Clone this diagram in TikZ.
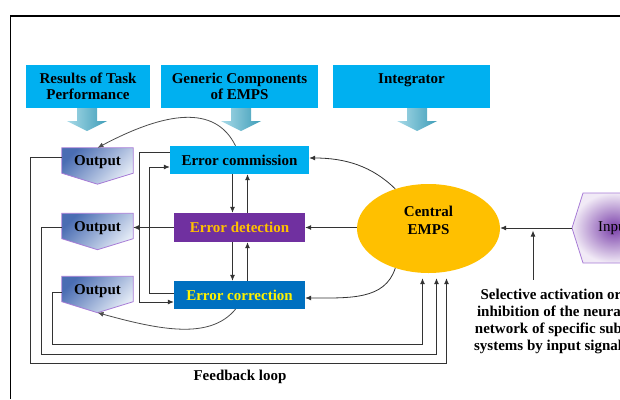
\documentclass[tikz,border=0pt]{standalone}
\usepackage{fontspec}
\setmainfont{Liberation Serif}
\usetikzlibrary{positioning,shapes.geometric,arrows.meta,backgrounds}

\definecolor{boxcyan}{HTML}{00B0F0}
\definecolor{detpurple}{HTML}{7030A0}
\definecolor{corblue}{HTML}{0070C0}
\definecolor{empsgold}{HTML}{FFC000}
\definecolor{outdark}{HTML}{4A6DB3}
\definecolor{outlight}{HTML}{E4EBF6}
\definecolor{outline}{HTML}{A77BD6}
\definecolor{arrowdark}{HTML}{3E9DB8}
\definecolor{arrowlight}{HTML}{A8DAE8}
\definecolor{hexdark}{HTML}{7A40AA}
\definecolor{hexlight}{HTML}{F1EAF6}

\begin{document}
\begin{tikzpicture}[x=1pt, y=-1pt,
		font=\fontsize{15}{16}\selectfont\bfseries,
		>={Latex[length=6pt,width=5pt]},
		line/.style={draw=black!80, line width=0.8pt},
		topbox/.style={rectangle, fill=boxcyan, minimum height=43pt, align=center, inner sep=0pt},
		errbox/.style={rectangle, minimum height=28pt, inner sep=0pt},
		outbox/.style={rectangle, minimum width=71pt, minimum height=25pt, inner sep=0pt},
		outshade/.style={draw=outline, line width=0.8pt, top color=outdark, bottom color=outlight, shading angle=45},
		emps/.style={ellipse, fill=empsgold, minimum width=143pt, minimum height=89pt, inner sep=0pt}
]

\useasboundingbox (0,0) rectangle (620,399);

% frame
\draw[line width=1.5pt] (10.5,399) -- (10.5,16) -- (620,16);

% top row
\node [topbox, minimum width=124pt] (results) at (88,86.5) {Results of Task\\Performance};
\node [topbox, minimum width=157pt] (generic) at (239.5,86.5) {Generic Components\\of EMPS};
\node [topbox, minimum width=157pt] (integrator) at (411.5,86.5) {Integrator\\\mbox{}};

\foreach \c in {87,241,417}
	\shade[left color=arrowlight, right color=arrowdark]
		(\c-10,108) -- (\c+10,108) -- (\c+10,121) -- (\c+20,121) -- (\c,131)
		-- (\c-20,121) -- (\c-10,121) -- cycle;

% error boxes
\node [errbox, fill=boxcyan, minimum width=139pt] (com) at (239.5,160) {Error commission};
\node [errbox, fill=detpurple, text=empsgold, minimum width=131pt, minimum height=29pt] (det) at (239.5,227.5) {Error detection};
\node [errbox, fill=corblue, text=yellow, minimum width=131pt] (cor) at (239.5,295) {Error correction};

% outputs
\node [outbox] (out1) at (97.5,162.5) {Output};
\node [outbox] (out2) at (97.5,228) {Output};
\node [outbox] (out3) at (97.5,291) {Output};
\begin{scope}[on background layer]
\foreach \n in {out1,out2,out3}
	\shade[outshade] ([yshift=2pt]\n.north west) -- ([yshift=2pt]\n.north east) -- ([yshift=2pt]\n.south east)
		-- ([yshift=-9pt]\n.south) -- ([yshift=2pt]\n.south west) -- cycle;
\end{scope}

% central
\node [emps] (emps) at (428.5,228.5) {};
\node [align=center, font=\fontsize{15}{18}\selectfont\bfseries] (empstext) at (428.5,220) {Central\\EMPS};

% input
\shade[inner color=hexdark, outer color=hexlight, draw=outline, line width=0.8pt]
	(572,228) -- (583,193) -- (645,193) -- (656,228) -- (645,263) -- (583,263) -- cycle;
\coordinate (inL) at (572,228);
\node [font=\fontsize{15}{16}\selectfont] (input) at (614,228) {Input};

\node [align=center, font=\fontsize{15}{17}\selectfont\bfseries] (sel) at (551,321.5)
	{Selective activation or\\inhibition of the neural\\network of specific sub-\\systems by input signals};

\node (feedback) at (240,377) {Feedback loop};

% connectors
\draw[line, ->] (inL) -- (inL -| emps.east);
\draw[line, ->] ([xshift=-18pt,yshift=6pt]sel.north) -- ++(0,-49);

\draw[line, ->] (emps.130) .. controls (372,166) and (345,158) .. ([yshift=2pt]com.east);
\draw[line, ->] (det.east -| emps.west) -- (det.east);
\draw[line, ->] (emps.230) .. controls (385,300) and (350,298) .. ([yshift=-3pt]cor.east);

\draw[line, ->] ([xshift=-7pt]com.south) -- ([xshift=-7pt]det.north);
\draw[line, ->] ([xshift=8pt]det.north) -- ([xshift=8pt]com.south);
\draw[line, ->] ([xshift=-7pt]det.south) -- ([xshift=-7pt]cor.north);
\draw[line, ->] ([xshift=8pt]cor.north) -- ([xshift=8pt]det.south);

\draw[line, ->] ([yshift=8pt]com.west) -- ++(-30,0) |- ([yshift=-7pt]cor.west);
\draw[line, ->] ([yshift=2pt]cor.west) -- ++(-24,0) |- ([yshift=-7pt]com.west);

\draw[line, ->] (det.west) -- (det.west -| out2.east);

\draw[line, draw=black!70, ->] ([xshift=-4pt]com.north) .. controls (215,104) and (165,112) .. ([yshift=2pt]out1.north);
\draw[line, draw=black!70, ->] ([xshift=-4pt]cor.south) .. controls (210,340) and (160,330) .. ([yshift=-9pt]out3.south);

% feedback loop
\draw[line, ->] ([yshift=5.5pt]out1.west) -- ++(-31,0) -- ++(0,206) -| ([xshift=18pt,yshift=-5pt]emps.south);
\draw[line, ->] ([yshift=1pt]out2.west) -- ++(-20,0) -- ++(0,127) -| ([xshift=8pt,yshift=-5pt]emps.south);
\draw[line, ->] ([yshift=-1pt]out3.west) -- ++(-9,0) -- ++(0,52) -| ([xshift=-6pt,yshift=-5pt]emps.south);

\end{tikzpicture}
\end{document}
